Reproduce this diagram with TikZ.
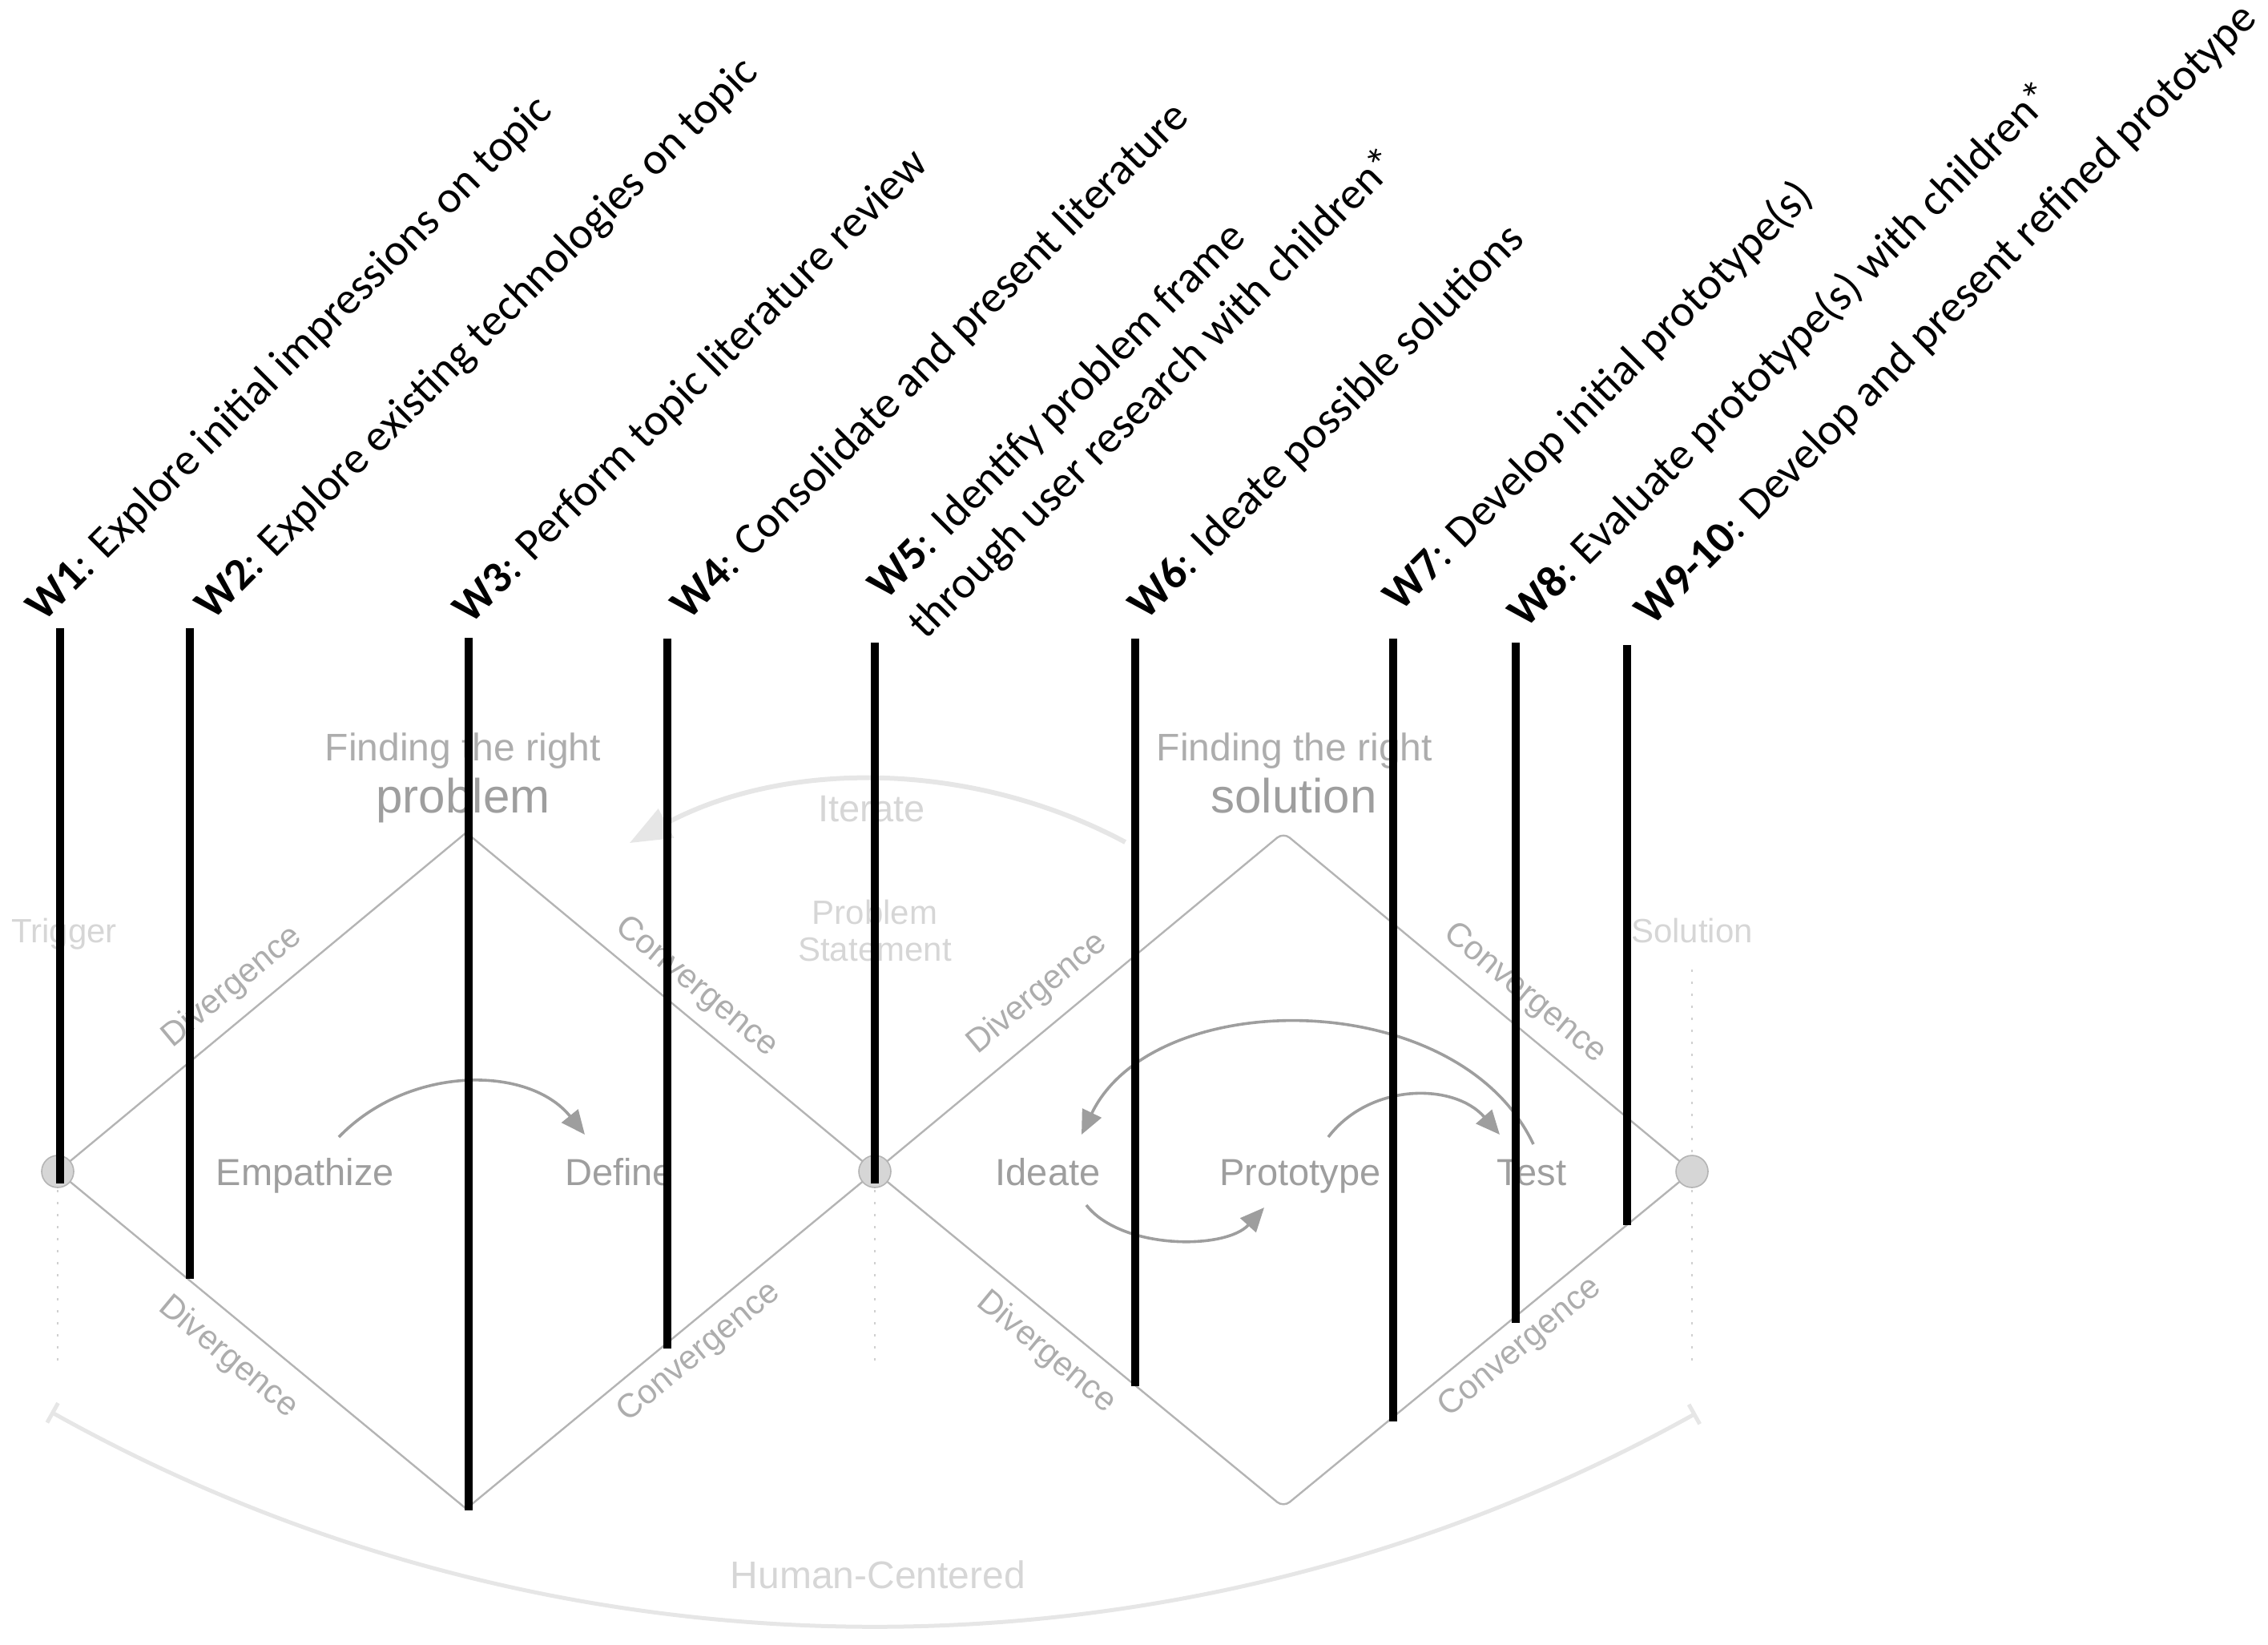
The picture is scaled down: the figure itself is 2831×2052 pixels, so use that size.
\documentclass[tikz,border=0pt]{standalone}
\usepackage{fontspec}
\setmainfont{Liberation Sans}
\newfontfamily\weekfont{Carlito}
\usetikzlibrary{arrows.meta}

\definecolor{phasegray}{HTML}{9E9E9E}
\definecolor{edgegray}{HTML}{B4B4B4}
\definecolor{palegray}{HTML}{D6D6D6}
\definecolor{arcgray}{HTML}{E6E6E6}
\definecolor{dotgray}{HTML}{D0D0D0}

\newcommand{\fsz}[2]{\fontsize{#1}{#2}\selectfont}

\begin{document}
\begin{tikzpicture}[x=0.5pt,y=-0.5pt,
	week/.style={anchor=base west,rotate=45,inner sep=0pt,align=left,font=\weekfont\fsz{28pt}{35pt}},
	phase/.style={anchor=base,inner sep=0pt,text=phasegray,font=\fsz{23.5pt}{28pt}},
	pale/.style={anchor=base,inner sep=0pt,text=palegray,align=center,font=\fsz{21pt}{23pt}},
	edgelabel/.style={inner sep=0pt,text=phasegray!85,font=\fsz{21pt}{25pt}},
	stage/.style={circle,draw=edgegray,line width=0.8pt,fill=palegray,minimum size=20pt,inner sep=0pt},
	flow/.style={draw=phasegray,line width=1.8pt,-{Triangle[length=15pt,width=13pt]}},
	weekline/.style={line width=5.2pt},
	guide/.style={draw=dotgray,line width=1pt,dash pattern=on 1.5pt off 6pt}]
	\useasboundingbox (0,0) rectangle (2831,2052);

	\coordinate (c1) at (72,1462);
	\coordinate (c2) at (1092,1462);
	\coordinate (c3) at (2112,1462);
	\coordinate (t1) at (582,1039);
	\coordinate (b1) at (582,1883);
	\coordinate (t2) at (1602,1039);
	\coordinate (b2) at (1602,1881);

	\draw[edgegray,line width=1.2pt] (c1) -- (t1) -- (c2) -- (b1) -- cycle;
	\draw[edgegray,line width=1.2pt,rounded corners=5pt] (c2) -- (t2) -- (c3) -- (b2) -- cycle;

	\foreach \x in {72,1092,2112}
		\draw[guide] (\x,1485) -- (\x,1706);
	\draw[guide] (2112,1210) -- (2112,1440);

	\coordinate (itr) at (1404.6,1051);
	\draw[arcgray,line width=3pt,-{Triangle[length=26pt,width=20pt]}] (itr) arc[start angle=-61.9,end angle=-118.3,radius=654.8];
	\node[pale,font=\fsz{23.5pt}{28pt}] (iter) at (1088,1025.5) {Iterate};

	\coordinate (hcl) at (63.5,1762);
	\draw[arcgray,line width=2.5pt,{Bar[width=14pt]}-{Bar[width=14pt]}] (hcl) arc[start angle=119.2,end angle=60.9,radius=2108];
	\node[pale,font=\fsz{24pt}{28pt}] (hc) at (1096,1982) {Human-Centered};

	\node[stage] (trig) at (c1) {};
	\node[stage] (stat) at (c2) {};
	\node[stage] (solc) at (c3) {};

	\node[pale] (trigger) at (80,1176) {Trigger};
	\node[pale] (solu) at (2112,1176) {Solution};
	\node[pale] (stmt) at (1092,1199) {Problem\\Statement};

	\node[phase,text=phasegray!85,font=\fsz{24pt}{28pt}] (find1) at (578,949) {Finding the right};
	\node[phase,font=\fsz{30pt}{34pt}] (prob) at (578,1014) {problem};
	\node[phase,text=phasegray!85,font=\fsz{24pt}{28pt}] (find2) at (1616,949) {Finding the right};
	\node[phase,font=\fsz{30pt}{34pt}] (solv) at (1615,1014) {solution};

	\node[phase] (emp) at (381,1479) {Empathize};
	\node[phase] (def) at (773,1479) {Define};
	\node[phase] (ide) at (1308,1479) {Ideate};
	\node[phase] (pro) at (1623,1479) {Prototype};
	\node[phase] (tst) at (1912,1479) {Test};

	\coordinate (f1a) at (423,1419);
	\coordinate (f1b) at (730,1416);
	\draw[flow] (f1a) .. controls (510,1329) and (660,1329) .. (f1b);
	\coordinate (f2a) at (1356,1504);
	\coordinate (f2b) at (1578,1507);
	\draw[flow] (f2a) .. controls (1400,1560) and (1530,1560) .. (f2b);
	\coordinate (f3a) at (1658,1419);
	\coordinate (f3b) at (1872,1416);
	\draw[flow] (f3a) .. controls (1710,1351) and (1815,1351) .. (f3b);
	\coordinate (f4a) at (1914,1428);
	\coordinate (f4b) at (1350,1416);
	\draw[flow] (f4a) .. controls (1820,1229) and (1440,1229) .. (f4b);

	\node[edgelabel,rotate=39.7] (dv1) at (290,1232) {Divergence};
	\node[edgelabel,rotate=-39.7] (cv1) at (869,1232) {Convergence};
	\node[edgelabel,rotate=-39.7] (dv2) at (285,1694) {Divergence};
	\node[edgelabel,rotate=39.7] (cv2) at (873,1688) {Convergence};
	\node[edgelabel,rotate=39.7] (dv3) at (1295,1240) {Divergence};
	\node[edgelabel,rotate=-39.7] (cv3) at (1903,1240) {Convergence};
	\node[edgelabel,rotate=-39.7] (dv4) at (1306,1688) {Divergence};
	\node[edgelabel,rotate=39.7] (cv4) at (1898,1682) {Convergence};

	\foreach \x/\t/\b in {75/784/1477, 237/784/1596, 585/796/1885, 833/797/1683, 1092/802/1477, 1417/797/1730, 1739/797/1774, 1892/802/1651, 2031/805/1529}
	{
		\draw[weekline] (\x,\t) -- (\x,\b);
	}

	\node[week] (w1) at (54,778) {\textbf{W1}: Explore initial impressions on topic};
	\node[week] (w2) at (265,776) {\textbf{W2}: Explore existing technologies on topic};
	\node[week] (w3) at (587,781) {\textbf{W3}: Perform topic literature review};
	\node[week] (w4) at (859,776) {\textbf{W4}: Consolidate and present literature};
	\node[week] (w5) at (1155,800) {\textbf{W5}: Identify problem frame\\through user research with children*};
	\node[week] (w6) at (1430,776) {\textbf{W6}: Ideate possible solutions};
	\node[week] (w7) at (1748,765) {\textbf{W7}: Develop initial prototype(s)};
	\node[week] (w8) at (1904,786) {\textbf{W8}: Evaluate prototype(s) with children*};
	\node[week] (w9) at (2062,783) {\textbf{W9-10}: Develop and present refined prototype};
\end{tikzpicture}
\end{document}
